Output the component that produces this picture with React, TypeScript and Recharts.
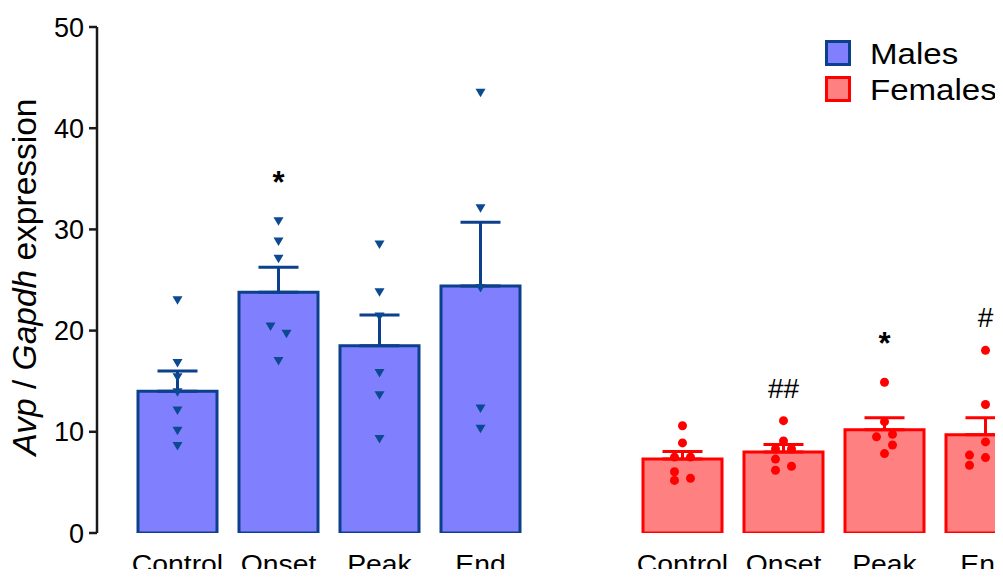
import { ComposedChart, Bar, Line, XAxis, YAxis, ErrorBar, LabelList, Legend } from "recharts";

const FONT = '"Liberation Sans", Arial, Helvetica, sans-serif';

const MALE_FILL = "#8080ff";
const MALE_EDGE = "#0c3f8c";
const MALE_DOT = "#0b4a91";
const FEMALE_FILL = "#ff8080";
const FEMALE_EDGE = "#ff0000";

// horizontal spread (px) between side-by-side points of one group
const LANE = 8;

const stages = ["Control", "Onset", "Peak", "End"];
const yTicks = [0, 10, 20, 30, 40, 50];

const maleMean = [14.0, 23.8, 18.5, 24.4];
const maleSem = [2.0, 2.45, 3.05, 6.3];
const malePoints = [
  [23.0, 16.8, 15.4, 13.9, 12.1, 10.1, 8.6],
  [30.8, 28.8, 27.1, 20.4, 19.7, 17.0],
  [28.5, 23.8, 21.4, 15.8, 13.6, 9.3],
  [43.5, 32.1, 24.2, 12.3, 10.3],
];
const maleLanes = [
  [0, 0, 0, 0, 0, 0, 0],
  [0, 0, 0, -1, 1, 0],
  [0, 0, 0, 0, 0, 0],
  [0, 0, 0, 0, 0],
];
const maleMarks = ["", "*", "", ""];

const femaleMean = [7.3, 8.0, 10.2, 9.7];
const femaleSem = [0.75, 0.75, 1.2, 1.7];
const femalePoints = [
  [10.6, 8.9, 7.5, 7.5, 6.05, 5.2, 5.4],
  [11.1, 9.1, 8.3, 8.3, 7.3, 6.6, 6.2],
  [14.9, 11.0, 9.75, 9.5, 8.7, 7.85],
  [18.05, 12.7, 9.0, 7.7, 7.45, 7.2, 6.7],
];
const femaleLanes = [
  [0, 0, -1, 1, -1, -1, 1],
  [0, 0, -1, 1, -1, 1, -1],
  [0, 0, 1, -1, 1, 0],
  [0, 0, 0, -2, 0, 2, -2],
];
const femaleMarks = ["", "##", "*", "#"];

const MAX_POINTS = 7;

// one row per category slot; an empty slot separates males from females
const baseRows = [
  ...stages.map((s, i) => ({
    key: `m-${s}`,
    label: s,
    group: "m",
    male: maleMean[i],
    maleErr: [0, maleSem[i]],
    pts: malePoints[i],
    lanes: maleLanes[i],
    mark: maleMarks[i],
    top: malePoints[i][0],
  })),
  { key: "gap", label: "", group: "", pts: [] as number[], lanes: [] as number[], mark: "" },
  ...stages.map((s, i) => ({
    key: `f-${s}`,
    label: s,
    group: "f",
    female: femaleMean[i],
    femaleErr: [0, femaleSem[i]],
    pts: femalePoints[i],
    lanes: femaleLanes[i],
    mark: femaleMarks[i],
    top: femalePoints[i][0],
  })),
];

const rows = baseRows.map((r) => {
  const o: Record<string, unknown> = { ...r };
  for (let k = 0; k < MAX_POINTS; k++) o[`p${k}`] = r.pts[k] ?? null;
  return o;
});

const labelOf: Record<string, string> = Object.fromEntries(baseRows.map((r) => [r.key, r.label]));

const renderPoint = (k: number) =>
  // eslint-disable-next-line @typescript-eslint/no-explicit-any
  function PointDot(props: any) {
    const { cx, cy, payload, index } = props;
    const id = `pt-${k}-${index}`;
    if (payload?.[`p${k}`] == null || cx == null || cy == null) return <g key={id} />;
    const x = cx + (payload.lanes[k] ?? 0) * LANE;
    if (payload.group === "m") {
      return <path key={id} d={`M${x - 5},${cy - 4}L${x + 5},${cy - 4}L${x},${cy + 4.5}Z`} fill={MALE_DOT} />;
    }
    return <circle key={id} cx={x} cy={cy} r={4.5} fill={FEMALE_EDGE} />;
  };

// significance marks sit just above the highest point of their group
// eslint-disable-next-line @typescript-eslint/no-explicit-any
function renderMark(props: any) {
  const { x, y, value, index } = props;
  if (!value) return null;
  const star = String(value).includes("*");
  return (
    <text
      key={`mark-${index}`}
      x={x}
      y={y - (star ? 28 : 23)}
      textAnchor="middle"
      fontSize={star ? 31 : 28}
      fontWeight={star ? "bold" : "normal"}
      fontFamily={FONT}
      fill="#000"
    >
      {value}
    </text>
  );
}

// category labels are drawn a little wide, like the rest of the lettering
// eslint-disable-next-line @typescript-eslint/no-explicit-any
function XTick(props: any) {
  const { x, y, payload } = props;
  const text = labelOf[payload.value] ?? "";
  if (!text) return <g />;
  return (
    <text
      transform={`translate(${x}, ${y}) scale(1.09, 1)`}
      textAnchor="middle"
      dy={18.5}
      fontSize={26}
      fontFamily={FONT}
      fill="#000"
    >
      {text}
    </text>
  );
}

// eslint-disable-next-line @typescript-eslint/no-explicit-any
function YLabel(props: any) {
  const { viewBox } = props;
  const x = viewBox.x + 36;
  const y = viewBox.y + viewBox.height / 2 - 3;
  return (
    <text
      x={x}
      y={y}
      transform={`rotate(-90, ${x}, ${y})`}
      textAnchor="middle"
      fontSize={33.5}
      fontFamily={FONT}
      fill="#000"
    >
      <tspan fontStyle="italic">Avp</tspan>
      <tspan> / </tspan>
      <tspan fontStyle="italic">Gapdh</tspan>
      <tspan> expression</tspan>
    </text>
  );
}

const legendItems = [
  { name: "Males", fill: MALE_FILL, edge: MALE_EDGE },
  { name: "Females", fill: FEMALE_FILL, edge: FEMALE_EDGE },
];

function LegendBox() {
  return (
    <div style={{ fontFamily: FONT, fontSize: 29, color: "#000" }}>
      {legendItems.map((it) => (
        <div key={it.name} style={{ display: "flex", alignItems: "center", height: 36 }}>
          <span
            style={{
              width: 26,
              height: 26,
              boxSizing: "border-box",
              border: `3px solid ${it.edge}`,
              background: it.fill,
              marginRight: 19,
              display: "inline-block",
            }}
          />
          <span
            style={{
              lineHeight: "36px",
              position: "relative",
              top: 1,
              whiteSpace: "nowrap",
              display: "inline-block",
              transform: "scaleX(1.14)",
              transformOrigin: "left center",
            }}
          >
            {it.name}
          </span>
        </div>
      ))}
    </div>
  );
}

export default function App() {
  return (
    <div style={{ margin: -8, width: 1003, height: 577, overflow: "hidden", background: "#fff", position: "relative" }}>
      <ComposedChart
        width={1066}
        height={577}
        data={rows}
        margin={{ top: 27, right: 0, bottom: 0, left: 0 }}
        barGap={-79}
      >
        <XAxis
          dataKey="key"
          type="category"
          height={44}
          padding={{ left: 30, right: 30 }}
          axisLine={false}
          tickLine={false}
          tickSize={0}
          tickMargin={21}
          interval={0}
          tick={<XTick />}
        />
        <YAxis
          width={97}
          domain={[0, 50]}
          ticks={yTicks}
          allowDataOverflow
          axisLine={{ stroke: "#1a1a1a", strokeWidth: 2.5 }}
          tickLine={{ stroke: "#1a1a1a", strokeWidth: 2.5 }}
          tickSize={8}
          tickMargin={5}
          tick={{ fill: "#000", fontSize: 27, fontFamily: FONT }}
          label={{ content: YLabel }}
        />
        <Legend
          layout="vertical"
          align="center"
          verticalAlign="middle"
          content={() => <LegendBox />}
          wrapperStyle={{ position: "absolute", left: 825, top: 35, width: "auto", height: "auto" }}
        />
        <Bar
          dataKey="male"
          barSize={79}
          fill={MALE_FILL}
          stroke={MALE_EDGE}
          strokeWidth={3}
          isAnimationActive={false}
          legendType="none"
        >
          <ErrorBar dataKey="maleErr" direction="y" width={20} stroke={MALE_EDGE} strokeWidth={3} />
        </Bar>
        <Bar
          dataKey="female"
          barSize={79}
          fill={FEMALE_FILL}
          stroke={FEMALE_EDGE}
          strokeWidth={3}
          isAnimationActive={false}
          legendType="none"
        >
          <ErrorBar dataKey="femaleErr" direction="y" width={20} stroke={FEMALE_EDGE} strokeWidth={3} />
        </Bar>
        {Array.from({ length: MAX_POINTS }, (_, k) => (
          <Line
            key={`p${k}`}
            dataKey={`p${k}`}
            stroke="none"
            dot={renderPoint(k)}
            activeDot={false}
            legendType="none"
            isAnimationActive={false}
          />
        ))}
        <Line dataKey="top" stroke="none" dot={false} activeDot={false} legendType="none" isAnimationActive={false}>
          <LabelList dataKey="mark" content={renderMark} />
        </Line>
      </ComposedChart>
    </div>
  );
}
